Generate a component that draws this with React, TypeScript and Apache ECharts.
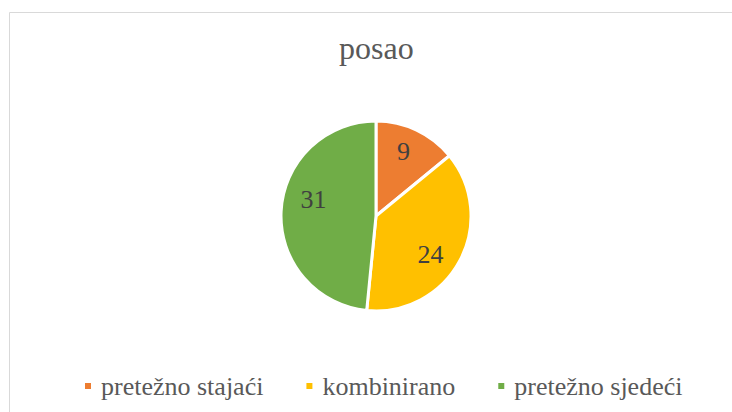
import React, { useEffect, useRef } from "react";
import * as echarts from "echarts";

const titleText = "posao";
const categories = ["pretežno stajaći", "kombinirano", "pretežno sjedeći"];
const values = [9, 24, 31];
const colors = ["#ED7D31", "#FFC000", "#70AD47"];
const labelOffsets: [number, number][] = [[6, -19], [10, 15], [-12, -14]];

export default function App() {
  const ref = useRef<HTMLDivElement>(null);
  useEffect(() => {
    if (!ref.current) return;
    const chart = echarts.init(ref.current, null, { renderer: "svg" });
    const font = "Liberation Serif";
    chart.setOption({
      animation: false,
      backgroundColor: "#ffffff",
      title: {
        text: titleText,
        left: 339,
        top: 32,
        padding: 0,
        textStyle: { fontFamily: font, fontSize: 32, fontWeight: "normal", color: "#595959" },
      },
      legend: {
        bottom: 13,
        left: 83,
        padding: 0,
        icon: "rect",
        itemWidth: 8,
        itemHeight: 8,
        itemGap: 41,
        textStyle: { fontFamily: font, fontSize: 26, color: "#595959", padding: [0, 0, 0, 4] },
        data: categories,
      },
      graphic: [
        { type: "line", shape: { x1: 9.5, y1: 12.5, x2: 732, y2: 12.5 }, style: { stroke: "#d9d9d9", lineWidth: 1 } },
        { type: "line", shape: { x1: 9.5, y1: 12.5, x2: 9.5, y2: 412 }, style: { stroke: "#d9d9d9", lineWidth: 1 } },
      ],
      series: [
        {
          type: "pie",
          center: [376, 216],
          radius: 95,
          startAngle: 90,
          clockwise: true,
          itemStyle: { borderColor: "#ffffff", borderWidth: 3 },
          label: {
            show: true,
            position: "inside",
            formatter: "{c}",
            fontFamily: font,
            fontSize: 26,
            color: "#404040",
          },
          labelLine: { show: false },
          emphasis: { disabled: true },
          data: categories.map((name, i) => ({
            name,
            value: values[i],
            itemStyle: { color: colors[i] },
            label: { offset: labelOffsets[i] },
          })),
        },
      ],
    });
    return () => chart.dispose();
  }, []);
  return (
    <div
      ref={ref}
      style={{ position: "absolute", left: 0, top: 0, width: 732, height: 412 }}
    />
  );
}
